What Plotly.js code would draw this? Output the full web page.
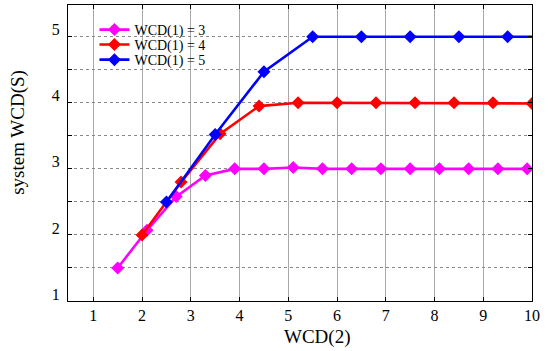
<!DOCTYPE html>
<html>
<head>
<meta charset="utf-8">
<script src="https://cdn.plot.ly/plotly-3.0.1.min.js"></script>
<style>html,body{margin:0;padding:0;background:#fff;}#chart{width:548px;height:351px;}</style>
</head>
<body>
<div id="chart"></div>
<script>
// Series WCD(1) = 3
const x3 = [1.5, 2.1, 2.7, 3.3, 3.9, 4.5, 5.1, 5.7, 6.3, 6.9, 7.5, 8.1, 8.7, 9.3, 9.9];
const y3 = [1.5, 2.07, 2.58, 2.9, 3.0, 3.0, 3.02, 3.0, 3.0, 3.0, 3.0, 3.0, 3.0, 3.0, 3.0];
// Series WCD(1) = 4
const x4 = [2.0, 2.8, 3.6, 4.4, 5.2, 6.0, 6.8, 7.6, 8.4, 9.2, 10.0];
const y4 = [2.0, 2.8, 3.53, 3.95, 4.0, 4.0, 4.0, 4.0, 4.0, 4.0, 3.99];
// Series WCD(1) = 5
const x5 = [2.5, 3.5, 4.5, 5.5, 6.5, 7.5, 8.5, 9.5, 10.5];
const y5 = [2.5, 3.52, 4.47, 5.0, 5.0, 5.0, 5.0, 5.0, 5.0];
const names = ["WCD(1) = 3", "WCD(1) = 4", "WCD(1) = 5"];
const colors = ["#ff00ff", "#ff0000", "#0000ff"];
// Axis ticks
const xTickVals = [1, 2, 3, 4, 5, 6, 7, 8, 9, 10];
const xTickText = ["1", "2", "3", "4", "5", "6", "7", "8", "9", "10"];
const yTickVals = [1, 1.5, 2, 2.5, 3, 3.5, 4, 4.5, 5];
const yTickText = ["1", "", "2", "", "3", "", "4", "", "5"];
const xTitle = "WCD(2)";
const yTitle = "system WCD(S)";

const font = "Liberation Serif, Times New Roman, serif";
const xs = [x3, x4, x5], ys = [y3, y4, y5];
const legendIds = ["legend", "legend2", "legend3"];
const traces = xs.map((x, i) => ({
  x: x, y: ys[i], name: names[i], type: "scatter", mode: "lines+markers",
  legend: legendIds[i],
  line: {color: colors[i], width: 2.6},
  marker: {symbol: "diamond", size: 10, color: colors[i]}
}));

const legendRowY = [0.9155, 0.865, 0.814];
function legendAt(yy) {
  return {x: 0.057, y: yy, xanchor: "left", yanchor: "middle", bgcolor: "rgba(0,0,0,0)",
          borderwidth: 0, font: {family: font, size: 14}, itemwidth: 30};
}

const layout = {
  width: 548, height: 351,
  margin: {l: 68, r: 16, t: 5, b: 50},
  paper_bgcolor: "#fff", plot_bgcolor: "#fff",
  font: {family: font, color: "#000", size: 16},
  showlegend: true,
  legend: legendAt(legendRowY[0]),
  legend2: legendAt(legendRowY[1]),
  legend3: legendAt(legendRowY[2]),
  shapes: [{type: "rect", xref: "paper", yref: "paper", x0: 0.019, x1: 0.338, y0: 0.772, y1: 0.976,
            fillcolor: "#fff", line: {width: 0}, layer: "below"}],
  annotations: [
    {text: xTitle, xref: "paper", yref: "paper", x: 0.537, y: -0.12, xanchor: "center", yanchor: "middle",
     showarrow: false, font: {family: font, size: 19}},
    {text: yTitle, xref: "paper", yref: "paper", x: -0.108, y: 0.571, xanchor: "center", yanchor: "middle",
     textangle: -90, showarrow: false, font: {family: font, size: 19}}
  ],
  xaxis: {
    range: [0.48, 10], tickvals: xTickVals, ticktext: xTickText,
    showgrid: true, gridcolor: "#a8a8a8", gridwidth: 1,
    zeroline: false, showline: true, linecolor: "#000", linewidth: 1, mirror: "ticks",
    ticks: "inside", ticklen: 4, tickcolor: "#000",
    tickfont: {family: font, size: 16}
  },
  yaxis: {
    range: [1, 5.48], tickvals: yTickVals, ticktext: yTickText,
    showgrid: true, gridcolor: "#888", gridwidth: 1, griddash: "dot",
    zeroline: false, showline: true, linecolor: "#000", linewidth: 1, mirror: "ticks",
    ticks: "inside", ticklen: 4, tickcolor: "#000", ticklabelshift: -7, ticklabelstandoff: 4,
    tickfont: {family: font, size: 16}
  }
};
Plotly.newPlot("chart", traces, layout, {displayModeBar: false, staticPlot: true});
</script>
</body>
</html>
